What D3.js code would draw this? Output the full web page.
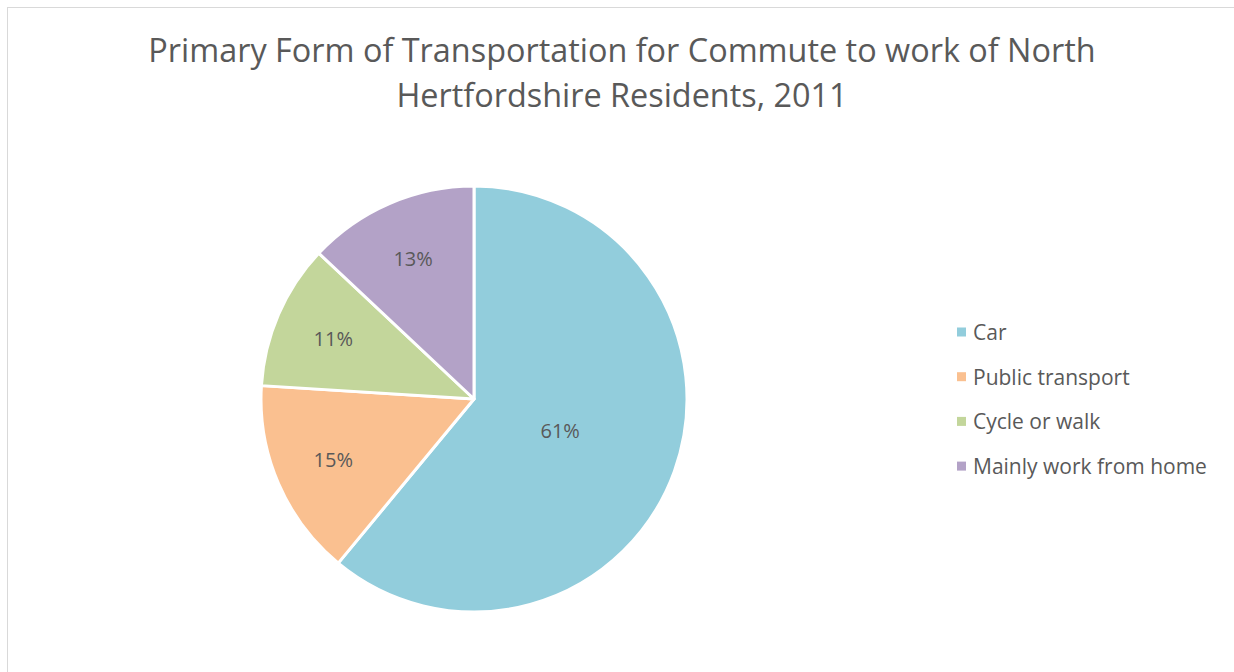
<!DOCTYPE html>
<html>
<head>
<meta charset="utf-8">
<script src="https://cdn.jsdelivr.net/npm/d3@7"></script>
<style>
  body { margin: 0; background: #fff; }
  text { font-family: "Open Sans", "Noto Sans", sans-serif; fill: #595959; }
</style>
</head>
<body>
<div class="chart"></div>
<script>
// data
const categories = ["Car", "Public transport", "Cycle or walk", "Mainly work from home"];
const shares = [61, 15, 11, 13];
const colours = ["#92CDDC", "#FAC090", "#C3D69B", "#B3A2C7"];
const titleLines = ["Primary Form of Transportation for Commute to work of North", "Hertfordshire Residents, 2011"];

const width = 1234;
const height = 672;

const svg = d3.select(".chart")
    .append("svg")
    .attr("width", width)
    .attr("height", height);

// chart border
svg.append("rect")
    .attr("x", 7.5)
    .attr("y", 7.5)
    .attr("width", width + 10)
    .attr("height", height + 10)
    .attr("fill", "none")
    .attr("stroke", "#d9d9d9")
    .attr("stroke-width", 1);

// title
svg.selectAll(".title-line")
    .data(titleLines)
    .enter()
    .append("text")
    .attr("class", "title-line")
    .attr("x", 622)
    .attr("y", (d, i) => 62 + i * 45)
    .attr("text-anchor", "middle")
    .attr("font-size", "32.4px")
    .text(d => d);

const data = categories.map((c, i) => ({ name: c, value: shares[i], colour: colours[i] }));

const cx = 474, cy = 399, radius = 213;

const pie = d3.pie()
    .sort(null)
    .value(d => d.value);

const arc = d3.arc()
    .innerRadius(0)
    .outerRadius(radius);

const g = svg.append("g")
    .attr("transform", `translate(${cx},${cy})`);

const slices = pie(data);

g.selectAll(".slice")
    .data(slices)
    .enter()
    .append("path")
    .attr("class", "slice")
    .attr("d", arc)
    .attr("fill", d => d.data.colour)
    .attr("stroke", "#fff")
    .attr("stroke-width", 3)
    .attr("stroke-linejoin", "round");

// labels sit further out for the smaller slices
g.selectAll(".slice-label")
    .data(slices)
    .enter()
    .append("text")
    .attr("class", "slice-label")
    .attr("transform", d => {
        const r = d.data.value > 50 ? radius * 0.43 : radius * 0.72;
        const a = (d.startAngle + d.endAngle) / 2;
        return `translate(${Math.sin(a) * r},${-Math.cos(a) * r})`;
    })
    .attr("text-anchor", "middle")
    .attr("dominant-baseline", "central")
    .attr("font-size", "20px")
    .attr("fill", "#404040")
    .text(d => d.data.value + "%");

// legend
const legend = svg.selectAll(".legend-item")
    .data(data)
    .enter()
    .append("g")
    .attr("class", "legend-item")
    .attr("transform", (d, i) => `translate(957,${332 + i * 44.7})`);

legend.append("rect")
    .attr("x", 0)
    .attr("y", -4.5)
    .attr("width", 9)
    .attr("height", 9)
    .attr("fill", d => d.colour);

legend.append("text")
    .attr("x", 16)
    .attr("y", 0)
    .attr("dominant-baseline", "central")
    .attr("font-size", "21px")
    .text(d => d.name);
</script>
</body>
</html>
